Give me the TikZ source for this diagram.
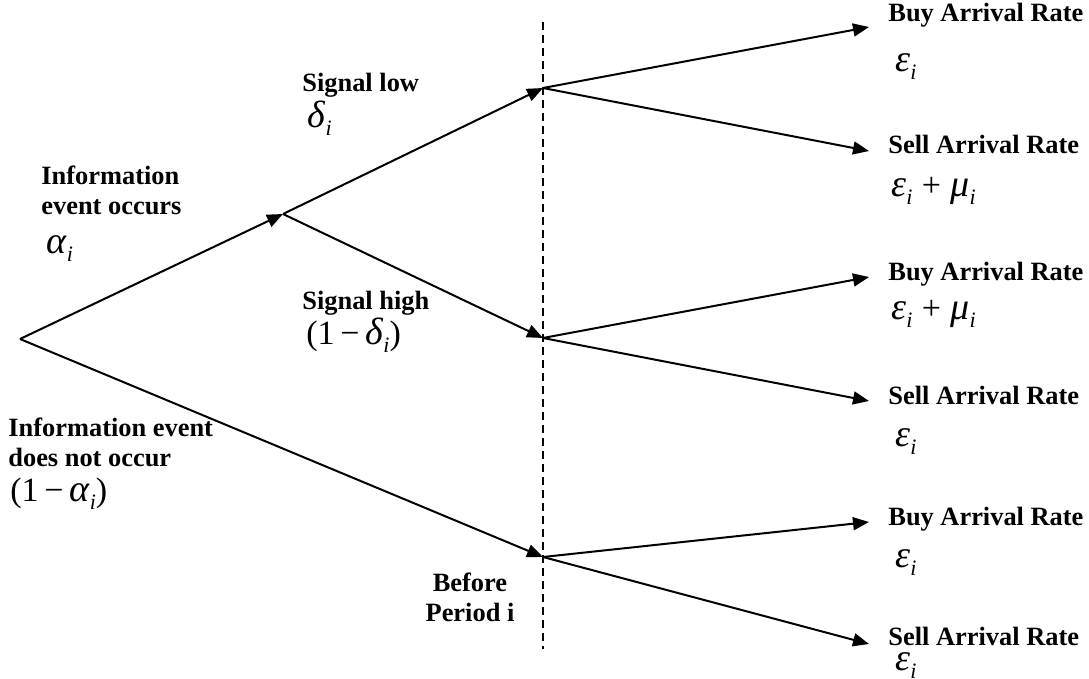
\documentclass[tikz,border=0pt]{standalone}
\usepackage{fontspec}
\setmainfont{Liberation Serif}
\usetikzlibrary{arrows.meta}
\newcommand{\ix}{\raisebox{-0.45ex}{\fontsize{11}{11}\selectfont\textit{i}}}
\newcommand{\gk}[1]{{\fontsize{19}{19}\selectfont\textit{#1}}\ix}
\begin{document}
\begin{tikzpicture}[x=0.5pt,y=-0.5pt,
    every node/.style={inner sep=0pt,anchor=base west,align=left,font=\fontsize{13.2}{15}\selectfont\bfseries},
    br/.style={line width=1pt,-{Triangle[length=8pt,width=6.5pt]}},
    rate/.style={font=\fontsize{17}{17}\selectfont}]
    \useasboundingbox (0,0) rectangle (1089,679);
    % tree points
    \coordinate (root) at (20,339);
    \coordinate (occ) at (283,214);
    \coordinate (low) at (543,88);
    \coordinate (high) at (543,338);
    \coordinate (none) at (543,557);
    \coordinate (b1) at (869,27);
    \coordinate (s1) at (869,151);
    \coordinate (b2) at (869,277);
    \coordinate (s2) at (869,401);
    \coordinate (b3) at (869,522);
    \coordinate (s3) at (869,644);
    \coordinate (ptop) at (543,22);
    \coordinate (pbot) at (543,649);
    \draw[line width=0.6pt,dash pattern=on 4pt off 2.5pt] (ptop)--(pbot);
    \foreach \x/\y in {root/occ,occ/low,occ/high,root/none,low/b1,low/s1,high/b2,high/s2,none/b3,none/s3}{\draw[br] (\x)--(\y);}
    % left labels
    \node (occlbl) at (41,215) {Information\\event occurs};
    \node[rate] (occp) at (46,254) {\gk{α}};
    \node (nonelbl) at (8,467) {Information event\\does not occur};
    \node[rate] (nonep) at (10,502) {(1\,−\,\gk{α})};
    \node (lowlbl) at (302,92) {Signal low};
    \node[rate] (lowp) at (307,128) {\gk{δ}};
    \node (highlbl) at (302,310) {Signal high};
    \node[rate] (highp) at (306,345) {(1\,−\,\gk{δ})};
    \node[anchor=base,align=center] (per) at (470,622) {Before\\Period i};
    % leaf labels
    \node (b1lbl) at (888,22) {Buy Arrival Rate};
    \node[rate] (b1r) at (895,72) {\gk{ε}};
    \node (s1lbl) at (888,154) {Sell Arrival Rate};
    \node[rate] (s1r) at (891,197) {\gk{ε}\;+\;\gk{μ}};
    \node (b2lbl) at (888,281) {Buy Arrival Rate};
    \node[rate] (b2r) at (891,320) {\gk{ε}\;+\;\gk{μ}};
    \node (s2lbl) at (888,405) {Sell Arrival Rate};
    \node[rate] (s2r) at (895,447) {\gk{ε}};
    \node (b3lbl) at (888,526) {Buy Arrival Rate};
    \node[rate] (b3r) at (895,568) {\gk{ε}};
    \node (s3lbl) at (888,646) {Sell Arrival Rate};
    \node[rate] (s3r) at (895,671) {\gk{ε}};
\end{tikzpicture}
\end{document}
